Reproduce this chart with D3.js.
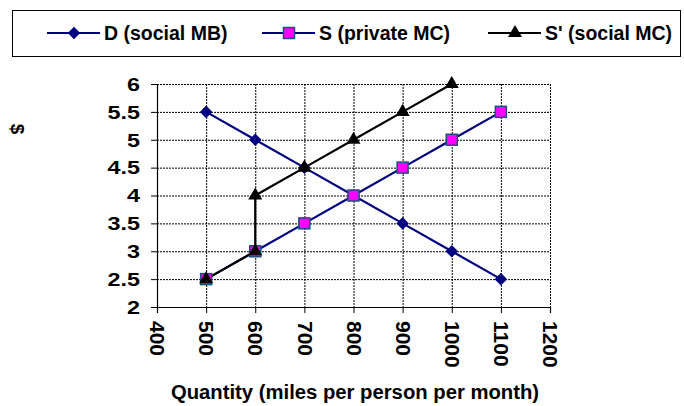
<!DOCTYPE html>
<html>
<head>
<meta charset="utf-8">
<script src="https://cdn.jsdelivr.net/npm/d3@7"></script>
<style>
  html, body { margin: 0; padding: 0; background: #fff; }
  svg text { font-family: Arial, "Liberation Sans", sans-serif; font-weight: bold; fill: #000; }
</style>
</head>
<body>
<svg id="chart" width="684" height="406"></svg>
<script>
// Quantity of miles driven and the three price curves
const demandQ = [500, 600, 700, 800, 900, 1000, 1100];
const demandP = [5.5, 5, 4.5, 4, 3.5, 3, 2.5];
const privateQ = [500, 600, 700, 800, 900, 1000, 1100];
const privateP = [2.5, 3, 3.5, 4, 4.5, 5, 5.5];
const socialQ = [500, 600, 600, 700, 800, 900, 1000];
const socialP = [2.5, 3, 4, 4.5, 5, 5.5, 6];

const xTicks = [400, 500, 600, 700, 800, 900, 1000, 1100, 1200];
const yTicks = [2, 2.5, 3, 3.5, 4, 4.5, 5, 5.5, 6];
const seriesNames = ["D (social MB)", "S (private MC)", "S' (social MC)"];

const svg = d3.select("#chart");
const plot = { left: 157, right: 550, top: 84, bottom: 307 };

const x = d3.scaleLinear().domain([400, 1200]).range([plot.left, plot.right]);
const y = d3.scaleLinear().domain([2, 6]).range([plot.bottom, plot.top]);

// dotted grid
const grid = svg.append("g");
grid.selectAll("line.h").data(yTicks.slice(1)).enter().append("line")
  .attr("x1", plot.left).attr("x2", plot.right)
  .attr("y1", d => y(d) + 0.5).attr("y2", d => y(d) + 0.5)
  .attr("stroke", "#000").attr("stroke-width", 1).attr("stroke-dasharray", "2,1");
grid.selectAll("line.v").data(xTicks.slice(1)).enter().append("line")
  .attr("x1", d => x(d) + 0.5).attr("x2", d => x(d) + 0.5)
  .attr("y1", plot.top).attr("y2", plot.bottom)
  .attr("stroke", "#000").attr("stroke-width", 1).attr("stroke-dasharray", "2,1");

// axes
const yAxis = svg.append("g").attr("transform", `translate(${plot.left},0)`)
  .call(d3.axisLeft(y).tickValues(yTicks).tickSize(6).tickFormat(d3.format("")));
const xAxis = svg.append("g").attr("transform", `translate(0,${plot.bottom})`)
  .call(d3.axisBottom(x).tickValues(xTicks).tickSize(6).tickFormat(d3.format("")));
[yAxis, xAxis].forEach(a => {
  a.select(".domain").attr("stroke", "#000").attr("stroke-width", 1.2);
  a.selectAll(".tick line").attr("stroke", "#000");
  a.selectAll("text").style("font-family", "Arial, 'Liberation Sans', sans-serif")
    .style("font-weight", "bold").attr("fill", "#000");
});
yAxis.selectAll("text")
  .style("font-size", "18px")
  .attr("x", 0).attr("dy", "0.35em")
  .attr("transform", "translate(-17,0) scale(1.3,1)");
xAxis.selectAll("text")
  .style("font-size", "21px")
  .attr("transform", "rotate(90)")
  .attr("text-anchor", "start")
  .attr("x", 14).attr("y", 0).attr("dy", "0.35em");

// axis titles
svg.append("text").attr("transform", "translate(18,129) rotate(90)")
  .attr("text-anchor", "middle").attr("dy", "0.35em").style("font-size", "19px").text("$");
svg.append("text").attr("x", 355).attr("y", 399)
  .attr("text-anchor", "middle").style("font-size", "19.5px")
  .attr("transform", "translate(355,0) scale(1.04,1) translate(-355,0)")
  .text("Quantity (miles per person per month)");

const line = d3.line().x(d => x(d[0])).y(d => y(d[1]));
const series = [
  { pts: d3.zip(demandQ, demandP), color: "#000080", marker: "diamond" },
  { pts: d3.zip(privateQ, privateP), color: "#000080", marker: "square" },
  { pts: d3.zip(socialQ, socialP), color: "#000000", marker: "triangle" }
];

function drawMarker(g, kind, cx, cy) {
  if (kind === "diamond") {
    g.append("path").attr("d", d3.symbol(d3.symbolDiamond2, 100)())
      .attr("transform", `translate(${cx},${cy})`).attr("fill", "#000080");
  } else if (kind === "square") {
    g.append("rect").attr("x", cx - 5.5).attr("y", cy - 5.5).attr("width", 11).attr("height", 11)
      .attr("fill", "#ff00ff").attr("stroke", "#1f4e79").attr("stroke-width", 1.5);
  } else {
    g.append("path").attr("d", d3.symbol(d3.symbolTriangle, 85)())
      .attr("transform", `translate(${cx},${cy})`).attr("fill", "#000");
  }
}

const marks = svg.append("g");
series.forEach(s => {
  marks.append("path").datum(s.pts).attr("d", line)
    .attr("fill", "none").attr("stroke", s.color).attr("stroke-width", 2.2);
});
series.forEach(s => {
  s.pts.forEach(p => drawMarker(marks, s.marker, x(p[0]), y(p[1])));
});

// legend
const legend = svg.append("g");
legend.append("rect").attr("x", 12.5).attr("y", 10.5).attr("width", 668).attr("height", 46)
  .attr("fill", "#fff").attr("stroke", "#000").attr("stroke-width", 1);
const legendX = [47, 262, 488];
seriesNames.forEach((name, i) => {
  const lx = legendX[i], ly = 33;
  legend.append("line").attr("x1", lx).attr("x2", lx + 53).attr("y1", ly).attr("y2", ly)
    .attr("stroke", series[i].color).attr("stroke-width", 2.2);
  drawMarker(legend, series[i].marker, lx + 27, ly);
  legend.append("text").attr("x", lx + 57).attr("y", ly).attr("dy", "0.35em")
    .style("font-size", "19.5px").text(name);
});
</script>
</body>
</html>
